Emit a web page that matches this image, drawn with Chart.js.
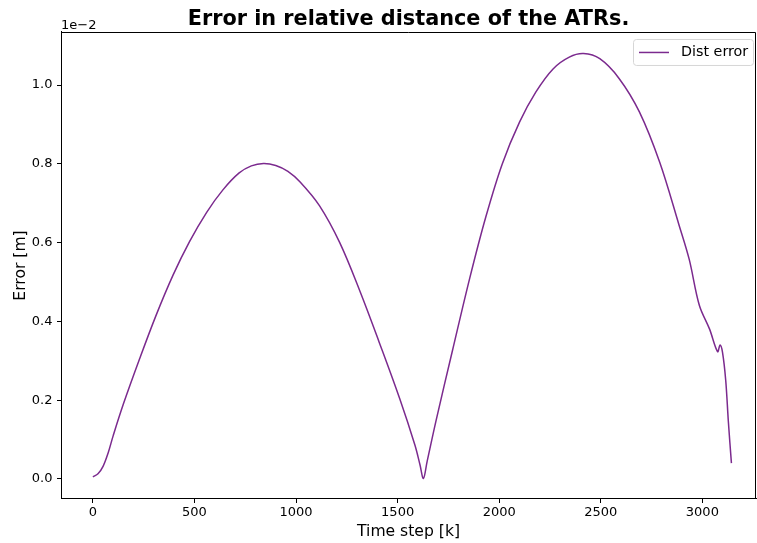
<!DOCTYPE html>
<html>
<head>
<meta charset="utf-8">
<script src="https://cdn.jsdelivr.net/npm/chart.js@4/dist/chart.umd.min.js"></script>
<style>
  html, body { margin: 0; padding: 0; background: #fff; }
</style>
</head>
<body>
<canvas id="ch-err" width="757" height="543"></canvas>
<script>
// time steps and distance error (values in units of 1e-2 m)
const steps = [0, 25, 50, 75, 100, 150, 230, 310, 395, 475, 560, 640, 720, 780, 840, 900,
  960, 1020, 1115, 1215, 1315, 1410, 1510, 1585, 1610, 1627, 1645, 1690, 1770, 1855, 1935,
  2015, 2100, 2180, 2265, 2345, 2415, 2495, 2590, 2690, 2790, 2885, 2935, 2985, 3035, 3075,
  3087, 3099, 3115, 3128, 3143];
const distErr = [0.005, 0.013, 0.032, 0.066, 0.110, 0.190, 0.305, 0.414, 0.518, 0.602, 0.677,
  0.734, 0.777, 0.795, 0.801, 0.796, 0.781, 0.754, 0.694, 0.600, 0.476, 0.346, 0.204, 0.086,
  0.036, 0.001, 0.044, 0.150, 0.326, 0.510, 0.667, 0.800, 0.906, 0.982, 1.041, 1.071, 1.080,
  1.067, 1.017, 0.932, 0.804, 0.645, 0.558, 0.441, 0.381, 0.323, 0.340, 0.322, 0.250, 0.145,
  0.040];
const xTicks = [0, 500, 1000, 1500, 2000, 2500, 3000];
const yTicks = [0.0, 0.2, 0.4, 0.6, 0.8, 1.0];

const FONT = "'DejaVu Sans', sans-serif";
const LINE = '#7b2a8e';

// top/right spines, offset label and boxed legend
const extras = {
  id: 'extras',
  afterDraw(chart) {
    const { ctx, chartArea: a } = chart;
    ctx.save();
    ctx.strokeStyle = '#000';
    ctx.lineWidth = 1;
    ctx.beginPath();
    ctx.moveTo(Math.round(a.left), Math.round(a.top) + 0.5);
    ctx.lineTo(Math.round(a.right) - 0.5, Math.round(a.top) + 0.5);
    ctx.lineTo(Math.round(a.right) - 0.5, Math.round(a.bottom));
    ctx.stroke();

    ctx.fillStyle = '#000';
    ctx.font = '13px ' + FONT;
    ctx.textAlign = 'left';
    ctx.textBaseline = 'alphabetic';
    ctx.fillText('1e\u22122', a.left, a.top - 2.5);

    const ds = chart.data.datasets[0];
    const bw = 120, bh = 26;
    const bx = a.right - 3 - bw, by = a.top + 7;
    ctx.beginPath();
    ctx.roundRect(bx + 0.5, by + 0.5, bw, bh, 3);
    ctx.fillStyle = 'rgba(255,255,255,0.8)';
    ctx.fill();
    ctx.strokeStyle = '#d6d6d6';
    ctx.stroke();
    ctx.beginPath();
    ctx.moveTo(bx + 6, by + 13.5);
    ctx.lineTo(bx + 36, by + 13.5);
    ctx.strokeStyle = ds.borderColor;
    ctx.lineWidth = 1.5;
    ctx.stroke();
    ctx.fillStyle = '#000';
    ctx.font = '14.3px ' + FONT;
    ctx.textBaseline = 'middle';
    ctx.fillText(ds.label, bx + 48, by + 13.5);
    ctx.restore();
  }
};

new Chart(document.getElementById('ch-err').getContext('2d'), {
  type: 'line',
  data: {
    datasets: [{
      label: 'Dist error',
      data: steps.map((s, i) => ({ x: s, y: distErr[i] })),
      borderColor: LINE,
      borderWidth: 1.5,
      pointRadius: 0,
      tension: 0.35,
      fill: false
    }]
  },
  options: {
    responsive: false,
    animation: false,
    layout: { padding: { left: 0, right: 1, top: 0, bottom: 0 } },
    plugins: {
      legend: { display: false },
      tooltip: { enabled: false },
      title: {
        display: true,
        text: 'Error in relative distance of the ATRs.',
        fullSize: false,
        color: '#000',
        font: { family: FONT, size: 20.8, weight: 'bold', lineHeight: 1.2 },
        padding: { top: 7, bottom: 0 }
      }
    },
    scales: {
      x: {
        type: 'linear',
        min: -157,
        max: 3264,
        afterFit: s => { s.height = 44; },
        afterBuildTicks: s => { s.ticks = xTicks.map(v => ({ value: v })); },
        grid: { drawOnChartArea: false, drawTicks: true, tickLength: 4, tickColor: '#000' },
        border: { display: true, color: '#000', width: 1 },
        ticks: { color: '#000', font: { family: FONT, size: 13 }, padding: 1.5, maxRotation: 0,
          callback: v => String(v) },
        title: { display: true, text: 'Time step [k]', color: '#000',
          font: { family: FONT, size: 15.6, lineHeight: 1.2 }, padding: { top: 0, bottom: 1.5 } }
      },
      y: {
        type: 'linear',
        min: -0.051,
        max: 1.135,
        afterFit: s => { s.width = 61; },
        afterBuildTicks: s => { s.ticks = yTicks.map(v => ({ value: v })); },
        grid: { drawOnChartArea: false, drawTicks: true, tickLength: 4, tickColor: '#000' },
        border: { display: true, color: '#000', width: 1 },
        ticks: { color: '#000', font: { family: FONT, size: 13 }, padding: 4.5,
          callback: v => v.toFixed(1) },
        title: { display: true, text: 'Error [m]', color: '#000',
          font: { family: FONT, size: 15.6, lineHeight: 1.2 }, padding: { top: 12, bottom: 0 } }
      }
    }
  },
  plugins: [extras]
});
</script>
</body>
</html>
